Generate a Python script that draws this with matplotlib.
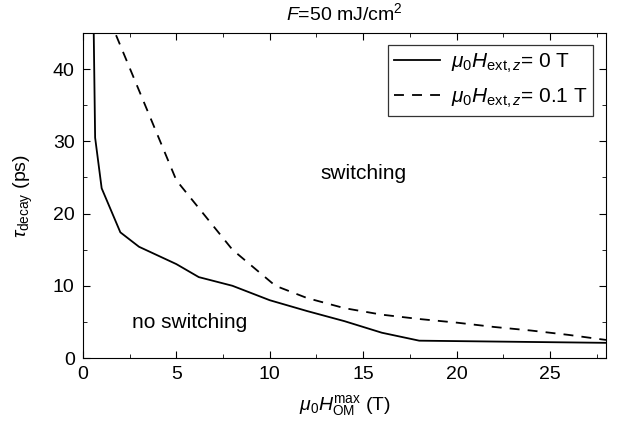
import matplotlib
matplotlib.use("Agg")
import matplotlib.pyplot as plt
from matplotlib.ticker import MultipleLocator

plt.rcParams['font.family'] = ['Liberation Sans', 'DejaVu Sans']
plt.rcParams['mathtext.fontset'] = 'custom'
plt.rcParams['mathtext.rm'] = 'Liberation Sans'
plt.rcParams['mathtext.it'] = 'Liberation Sans:italic'
plt.rcParams['mathtext.bf'] = 'Liberation Sans:bold'

# Data
h_zero = [0.55, 0.65, 1.0, 2.0, 3.0, 5.0, 6.2, 8.0, 10.0, 12.0, 14.0, 16.0, 18.0, 28.0]
tau_zero = [50.0, 30.5, 23.5, 17.4, 15.4, 13.0, 11.2, 10.0, 8.0, 6.5, 5.1, 3.5, 2.4, 2.1]

h_ext = [1.4, 5.0, 8.0, 10.3, 12.0, 14.0, 16.0, 18.0, 20.0, 22.0, 24.0, 26.0, 28.0]
tau_ext = [47.0, 24.6, 15.0, 10.0, 8.3, 6.9, 6.0, 5.4, 4.9, 4.3, 3.8, 3.2, 2.5]

labels = [r'$\mu_0H_{\mathrm{ext},z}$= 0 T', r'$\mu_0H_{\mathrm{ext},z}$= 0.1 T']

fig = plt.figure(figsize=(6.23, 4.34), dpi=100)
ax = fig.add_axes([0.1332, 0.1751, 0.9727 - 0.1332, 0.924 - 0.1751])

ax.plot(h_zero, tau_zero, color='black', lw=1.3, ls='-', label=labels[0])
ax.plot(h_ext, tau_ext, color='black', lw=1.3, ls=(0, (5.5, 4.5)), label=labels[1])

ax.set_xlim(0, 28)
ax.set_ylim(0, 45)
ax.xaxis.set_major_locator(MultipleLocator(5))
ax.xaxis.set_minor_locator(MultipleLocator(2.5))
ax.yaxis.set_major_locator(MultipleLocator(10))
ax.yaxis.set_minor_locator(MultipleLocator(5))
ax.tick_params(which='both', direction='in', top=True, right=True, labelsize=14)
ax.tick_params(which='major', length=5, pad=6)
ax.tick_params(which='minor', length=3)

ax.set_xlabel(r'$\mu_0H^{\mathrm{max}}_{\mathrm{OM}}$ (T)', fontsize=14, labelpad=7)
ax.set_ylabel(r'$\tau_{\mathrm{decay}}$ (ps)', fontsize=14, labelpad=13)
ax.set_title(r'$F$=50 mJ/cm$^2$', fontsize=14, pad=9)

ax.text(15, 25.6, 'switching', fontsize=15, ha='center', va='center')
ax.text(5.7, 4.9, 'no switching', fontsize=15, ha='center', va='center')

leg = ax.legend(loc='upper right', fontsize=15, frameon=True, fancybox=False,
                edgecolor='black', handlelength=2.2, borderaxespad=0.6,
                handletextpad=0.5, borderpad=0.3, labelspacing=0.55)
leg.get_frame().set_linewidth(0.9)

fig.savefig('out.png', dpi=100)
